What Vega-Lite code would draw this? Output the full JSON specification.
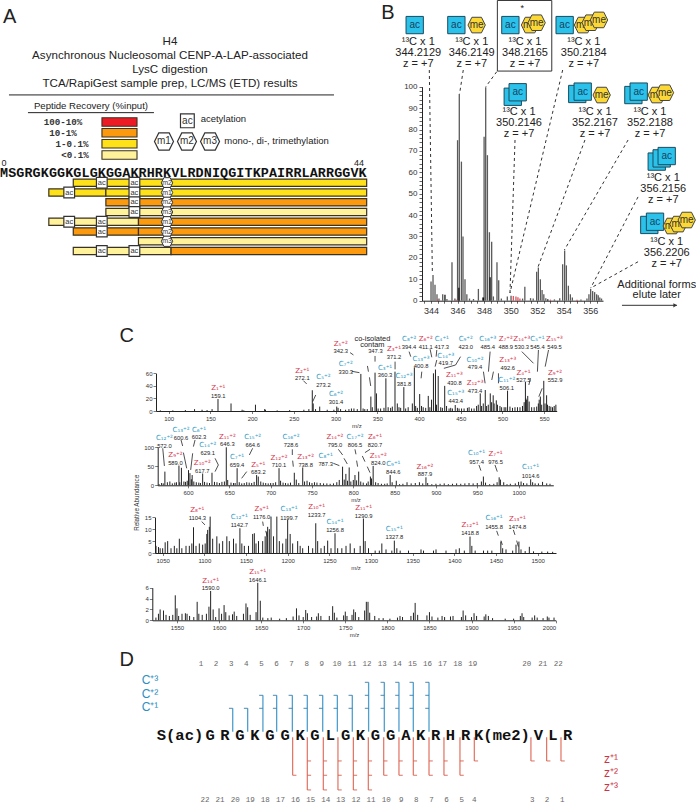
{
"$schema":"https://vega.github.io/schema/vega-lite/v6.json",
"width":696,"height":803,"padding":0,"autosize":{"type":"none"},"background":"white",
"config":{"view":{"stroke":null},"text":{"font":"Liberation Sans","color":"#222"},"axis":{"grid":false,"labelFont":"Liberation Sans","titleFont":"Liberation Sans","titleFontWeight":"normal"}},
"resolve":{"scale":{"x":"independent","y":"independent","color":"independent"},"axis":{"x":"independent","y":"independent"}},
"datasets":{
"aBars":[{"start":8.5,"end":44.5,"row":1,"recovery":"1-0.1%"},{"start":5.5,"end":12.5,"row":2,"recovery":"1-0.1%"},{"start":12.5,"end":44.5,"row":2,"recovery":"1-0.1%"},{"start":12.5,"end":44.5,"row":3,"recovery":"10-1%"},{"start":12.5,"end":44.5,"row":4,"recovery":"<0.1%"},{"start":5.5,"end":16.5,"row":5,"recovery":"<0.1%"},{"start":16.5,"end":44.5,"row":5,"recovery":"10-1%"},{"start":8.5,"end":16.5,"row":6,"recovery":"10-1%"},{"start":16.5,"end":44.5,"row":6,"recovery":"10-1%"},{"start":16.5,"end":44.5,"row":7,"recovery":"<0.1%"},{"start":8.5,"end":20.5,"row":8,"recovery":"<0.1%"},{"start":20.5,"end":44.5,"row":8,"recovery":"10-1%"}],
"aSwatch":[{"start":12.02,"end":16.32,"row":-5.24,"recovery":"100-10%"},{"start":12.02,"end":16.32,"row":-4.13,"recovery":"10-1%"},{"start":12.02,"end":16.32,"row":-3.01,"recovery":"1-0.1%"},{"start":12.02,"end":16.32,"row":-1.86,"recovery":"<0.1%"}],
"aSeq":[{"pos":0,"row":0,"aa":"M"},{"pos":1,"row":0,"aa":"S"},{"pos":2,"row":0,"aa":"G"},{"pos":3,"row":0,"aa":"R"},{"pos":4,"row":0,"aa":"G"},{"pos":5,"row":0,"aa":"K"},{"pos":6,"row":0,"aa":"G"},{"pos":7,"row":0,"aa":"G"},{"pos":8,"row":0,"aa":"K"},{"pos":9,"row":0,"aa":"G"},{"pos":10,"row":0,"aa":"L"},{"pos":11,"row":0,"aa":"G"},{"pos":12,"row":0,"aa":"K"},{"pos":13,"row":0,"aa":"G"},{"pos":14,"row":0,"aa":"G"},{"pos":15,"row":0,"aa":"A"},{"pos":16,"row":0,"aa":"K"},{"pos":17,"row":0,"aa":"R"},{"pos":18,"row":0,"aa":"H"},{"pos":19,"row":0,"aa":"R"},{"pos":20,"row":0,"aa":"K"},{"pos":21,"row":0,"aa":"V"},{"pos":22,"row":0,"aa":"L"},{"pos":23,"row":0,"aa":"R"},{"pos":24,"row":0,"aa":"D"},{"pos":25,"row":0,"aa":"N"},{"pos":26,"row":0,"aa":"I"},{"pos":27,"row":0,"aa":"Q"},{"pos":28,"row":0,"aa":"G"},{"pos":29,"row":0,"aa":"I"},{"pos":30,"row":0,"aa":"T"},{"pos":31,"row":0,"aa":"K"},{"pos":32,"row":0,"aa":"P"},{"pos":33,"row":0,"aa":"A"},{"pos":34,"row":0,"aa":"I"},{"pos":35,"row":0,"aa":"R"},{"pos":36,"row":0,"aa":"R"},{"pos":37,"row":0,"aa":"L"},{"pos":38,"row":0,"aa":"A"},{"pos":39,"row":0,"aa":"R"},{"pos":40,"row":0,"aa":"R"},{"pos":41,"row":0,"aa":"G"},{"pos":42,"row":0,"aa":"G"},{"pos":43,"row":0,"aa":"V"},{"pos":44,"row":0,"aa":"K"}],
"aAc":[{"pos":12,"row":1},{"pos":16,"row":1},{"pos":8,"row":2},{"pos":16,"row":2},{"pos":16,"row":3},{"pos":16,"row":4},{"pos":8,"row":5},{"pos":12,"row":5},{"pos":12,"row":6},{"pos":12,"row":8},{"pos":16,"row":8}],
"aMe":[{"pos":20,"row":1,"t":"m2"},{"pos":20,"row":2,"t":"m1"},{"pos":20,"row":3,"t":"m2"},{"pos":20,"row":4,"t":"m3"},{"pos":20,"row":5,"t":"m1"},{"pos":20,"row":6,"t":"m2"},{"pos":20,"row":7,"t":"m3"}],
"aMeLegend":[{"pos":19.63,"row":-3.24,"t":"m1"},{"pos":22.45,"row":-3.24,"t":"m2"},{"pos":25.28,"row":-3.24,"t":"m3"}],
"bPeaks":[{"mz":344.0,"i":9},{"mz":344.15,"i":12},{"mz":344.3,"i":7.5},{"mz":344.45,"i":3},{"mz":344.6,"i":1},{"mz":344.88,"i":3},{"mz":345.2,"i":0.8},{"mz":345.58,"i":18},{"mz":345.8,"i":1},{"mz":346.0,"i":75},{"mz":346.13,"i":96.6},{"mz":346.29,"i":65},{"mz":346.41,"i":30},{"mz":346.56,"i":10},{"mz":346.7,"i":3},{"mz":346.9,"i":1},{"mz":347.2,"i":0.8},{"mz":347.57,"i":5.5},{"mz":347.9,"i":1.5},{"mz":348.0,"i":76.6},{"mz":348.12,"i":99.7},{"mz":348.25,"i":68},{"mz":348.4,"i":32},{"mz":348.57,"i":27.5},{"mz":348.7,"i":2},{"mz":348.97,"i":18},{"mz":349.1,"i":9.5},{"mz":349.3,"i":1},{"mz":349.75,"i":2},{"mz":350.03,"i":2.3},{"mz":350.9,"i":1},{"mz":351.07,"i":6.5},{"mz":351.5,"i":1.2},{"mz":351.7,"i":1},{"mz":351.96,"i":13.5},{"mz":352.09,"i":15.5},{"mz":352.24,"i":10},{"mz":352.37,"i":5},{"mz":352.5,"i":3},{"mz":352.65,"i":1.2},{"mz":353.3,"i":0.6},{"mz":353.7,"i":1.2},{"mz":353.92,"i":17},{"mz":354.07,"i":23.5},{"mz":354.2,"i":16.5},{"mz":354.35,"i":7},{"mz":354.5,"i":3},{"mz":354.65,"i":1.5},{"mz":355.3,"i":0.6},{"mz":355.75,"i":1},{"mz":355.9,"i":3},{"mz":356.03,"i":5.5},{"mz":356.18,"i":4.5},{"mz":356.33,"i":4},{"mz":356.48,"i":3},{"mz":356.6,"i":2.5},{"mz":356.72,"i":1.5},{"mz":356.85,"i":1}],
"bDark":[{"mz":345.05,"i":2.8},{"mz":346.1,"i":6},{"mz":348.45,"i":11},{"mz":347.95,"i":1.5},{"mz":352.8,"i":0.7}],
"bRed":[{"mz":344.5,"i":0.6},{"mz":345.9,"i":0.5},{"mz":350.2,"i":2.2},{"mz":350.4,"i":2},{"mz":350.55,"i":1.6},{"mz":350.7,"i":1},{"mz":353.0,"i":0.5},{"mz":355.0,"i":0.5}],
"bDash":[{"mz":343.87,"i":107.8,"mz2":344.1,"i2":13.4},{"mz":346.43,"i":107.8,"mz2":346.15,"i2":96.6},{"mz":348.95,"i":107,"mz2":348.12,"i2":99.9},{"mz":353.92,"i":107.8,"mz2":349.95,"i2":3.6},{"mz":350.33,"i":75.1,"mz2":349.95,"i2":3.6},{"mz":355.6,"i":75.1,"mz2":352.06,"i2":15.7},{"mz":358.85,"i":75.1,"mz2":354.05,"i2":23.7},{"mz":359.6,"i":48.5,"mz2":356.03,"i2":5.9},{"mz":359.6,"i":18.2,"mz2":356.03,"i2":5.9}],
"bText":[{"mz":343.04,"i":120.7,"t":"¹³C x 1"},{"mz":343.04,"i":115.6,"t":"344.2129"},{"mz":343.04,"i":110.6,"t":"z = +7"},{"mz":347.07,"i":120.7,"t":"¹³C x 1"},{"mz":347.07,"i":115.6,"t":"346.2149"},{"mz":347.07,"i":110.6,"t":"z = +7"},{"mz":351.08,"i":120.7,"t":"¹³C x 1"},{"mz":351.08,"i":115.6,"t":"348.2165"},{"mz":351.08,"i":110.6,"t":"z = +7"},{"mz":355.51,"i":120.7,"t":"¹³C x 1"},{"mz":355.51,"i":115.6,"t":"350.2184"},{"mz":355.51,"i":110.6,"t":"z = +7"},{"mz":350.63,"i":88.2,"t":"¹³C x 1"},{"mz":350.63,"i":82.9,"t":"350.2146"},{"mz":350.63,"i":77.9,"t":"z = +7"},{"mz":356.36,"i":88.2,"t":"¹³C x 1"},{"mz":356.36,"i":82.9,"t":"352.2167"},{"mz":356.36,"i":77.9,"t":"z = +7"},{"mz":360.5,"i":88.2,"t":"¹³C x 1"},{"mz":360.5,"i":82.9,"t":"352.2188"},{"mz":360.5,"i":77.9,"t":"z = +7"},{"mz":361.5,"i":57.2,"t":"¹³C x 1"},{"mz":361.5,"i":52.1,"t":"356.2156"},{"mz":361.5,"i":47.1,"t":"z = +7"},{"mz":361.76,"i":27.3,"t":"¹³C x 1"},{"mz":361.76,"i":22.1,"t":"356.2206"},{"mz":361.76,"i":17.1,"t":"z = +7"},{"mz":361.01,"i":7.5,"t":"Additional forms"},{"mz":361.01,"i":2.5,"t":"elute later"}],
"bAc":[{"mz":342.77,"i":128.8,"t":"ac"},{"mz":345.91,"i":128.8,"t":"ac"},{"mz":349.98,"i":128.8,"t":"ac"},{"mz":354.07,"i":128.8,"t":"ac"},{"mz":350.16,"i":95.3,"t":""},{"mz":350.53,"i":97.4,"t":"ac"},{"mz":355.02,"i":96.6,"t":""},{"mz":355.43,"i":97.7,"t":"ac"},{"mz":359.25,"i":96.1,"t":""},{"mz":359.65,"i":97.7,"t":"ac"},{"mz":361.01,"i":65,"t":""},{"mz":361.38,"i":66.5,"t":""},{"mz":361.76,"i":67.6,"t":"ac"},{"mz":360.45,"i":35.4,"t":""},{"mz":360.88,"i":36.9,"t":"ac"}],
"bMe":[{"mz":347.44,"i":128.8,"tier":3},{"mz":351.46,"i":128.8,"tier":1},{"mz":351.96,"i":129.9,"tier":3},{"mz":355.45,"i":128.8,"tier":1},{"mz":356.03,"i":129.9,"tier":2},{"mz":356.66,"i":131.2,"tier":3},{"mz":356.86,"i":96.1,"tier":3},{"mz":361.01,"i":96.1,"tier":1},{"mz":361.63,"i":97.2,"tier":3},{"mz":362.14,"i":34.9,"tier":1},{"mz":362.64,"i":35.8,"tier":2},{"mz":363.27,"i":37.7,"tier":3}],
"c1":[{"mz":159.1,"i":19},{"mz":174.7,"i":12},{"mz":204,"i":10},{"mz":272.1,"i":33},{"mz":273.2,"i":12},{"mz":281,"i":7},{"mz":301.4,"i":7},{"mz":330.3,"i":59},{"mz":342.3,"i":23},{"mz":347.3,"i":61},{"mz":349,"i":28},{"mz":360.3,"i":52},{"mz":371.2,"i":62.6},{"mz":381.8,"i":38},{"mz":394.4,"i":69.5},{"mz":400.8,"i":27},{"mz":411.1,"i":24},{"mz":417.3,"i":60},{"mz":419.7,"i":66},{"mz":423,"i":55.7},{"mz":430.8,"i":40},{"mz":443.4,"i":9.5},{"mz":473.4,"i":28},{"mz":479.4,"i":33.4},{"mz":485.4,"i":28},{"mz":488.9,"i":25},{"mz":492.6,"i":17},{"mz":506.1,"i":32.4},{"mz":527.5,"i":46.7},{"mz":530.3,"i":24},{"mz":545.4,"i":23},{"mz":549.5,"i":48},{"mz":552.9,"i":25},{"mz":90,"i":1},{"mz":105,"i":1},{"mz":120,"i":1.5},{"mz":131,"i":3},{"mz":140,"i":2},{"mz":146,"i":1.5},{"mz":152,"i":3},{"mz":188,"i":2},{"mz":190,"i":1},{"mz":215,"i":3},{"mz":216,"i":2},{"mz":230,"i":1},{"mz":245,"i":1.5},{"mz":262,"i":2},{"mz":268,"i":3},{"mz":276,"i":3},{"mz":290,"i":2},{"mz":298,"i":2},{"mz":303,"i":5},{"mz":306,"i":3},{"mz":312,"i":2},{"mz":316,"i":3},{"mz":319,"i":4},{"mz":322,"i":4},{"mz":326,"i":3},{"mz":333,"i":4},{"mz":335,"i":3},{"mz":338,"i":3},{"mz":344,"i":6},{"mz":351,"i":4},{"mz":354,"i":4},{"mz":358,"i":5},{"mz":363,"i":6},{"mz":366,"i":5},{"mz":368,"i":7},{"mz":374,"i":12},{"mz":376,"i":6},{"mz":378,"i":5},{"mz":384,"i":4},{"mz":387,"i":6},{"mz":392,"i":12},{"mz":396,"i":8},{"mz":398,"i":5},{"mz":403,"i":8},{"mz":405,"i":6},{"mz":408,"i":5},{"mz":413,"i":6},{"mz":415,"i":18},{"mz":421,"i":10},{"mz":426,"i":6},{"mz":428,"i":5},{"mz":433,"i":8},{"mz":436,"i":4},{"mz":438,"i":5},{"mz":440,"i":4},{"mz":446,"i":5},{"mz":448,"i":4},{"mz":451,"i":4},{"mz":454,"i":4},{"mz":458,"i":5},{"mz":460,"i":6},{"mz":463,"i":4},{"mz":466,"i":4},{"mz":469,"i":8},{"mz":471,"i":10},{"mz":475,"i":8},{"mz":477,"i":12},{"mz":481,"i":8},{"mz":483,"i":10},{"mz":487,"i":14},{"mz":490,"i":12},{"mz":494,"i":10},{"mz":497,"i":8},{"mz":499,"i":6},{"mz":502,"i":6},{"mz":504,"i":6},{"mz":509,"i":7},{"mz":512,"i":5},{"mz":515,"i":6},{"mz":518,"i":6},{"mz":521,"i":6},{"mz":524,"i":8},{"mz":526,"i":14},{"mz":528,"i":20},{"mz":529,"i":18},{"mz":532,"i":15},{"mz":535,"i":6},{"mz":538,"i":6},{"mz":541,"i":7},{"mz":543,"i":12},{"mz":544,"i":18},{"mz":547,"i":10},{"mz":551,"i":12},{"mz":554,"i":10},{"mz":556,"i":8},{"mz":558,"i":7},{"mz":560,"i":6},{"mz":562,"i":8},{"mz":564,"i":10}],
"c2":[{"mz":572,"i":36},{"mz":589,"i":52},{"mz":592,"i":46},{"mz":600.6,"i":40},{"mz":602.3,"i":32},{"mz":605,"i":27},{"mz":617.7,"i":31},{"mz":629,"i":33},{"mz":646.3,"i":100},{"mz":659.4,"i":45},{"mz":683,"i":27},{"mz":685,"i":23},{"mz":710.1,"i":45},{"mz":728.6,"i":33},{"mz":738.8,"i":47},{"mz":787,"i":49},{"mz":795,"i":47},{"mz":791,"i":30},{"mz":806.5,"i":36},{"mz":802,"i":27},{"mz":820.7,"i":23},{"mz":824,"i":51},{"mz":844.6,"i":27},{"mz":887.9,"i":21},{"mz":957.4,"i":23},{"mz":976.5,"i":21},{"mz":1014.6,"i":16},{"mz":565,"i":3},{"mz":568,"i":6},{"mz":570,"i":5},{"mz":575,"i":8},{"mz":578,"i":10},{"mz":581,"i":5},{"mz":584,"i":7},{"mz":586,"i":8},{"mz":590,"i":8},{"mz":595,"i":10},{"mz":597,"i":9},{"mz":599,"i":12},{"mz":604,"i":16},{"mz":607,"i":10},{"mz":610,"i":8},{"mz":613,"i":7},{"mz":615,"i":6},{"mz":620,"i":9},{"mz":623,"i":7},{"mz":626,"i":6},{"mz":632,"i":9},{"mz":635,"i":8},{"mz":638,"i":6},{"mz":641,"i":9},{"mz":644,"i":10},{"mz":648,"i":14},{"mz":652,"i":7},{"mz":655,"i":6},{"mz":657,"i":6},{"mz":662,"i":8},{"mz":665,"i":5},{"mz":668,"i":6},{"mz":671,"i":8},{"mz":674,"i":7},{"mz":677,"i":6},{"mz":680,"i":9},{"mz":688,"i":10},{"mz":691,"i":7},{"mz":694,"i":6},{"mz":697,"i":5},{"mz":700,"i":6},{"mz":703,"i":6},{"mz":706,"i":8},{"mz":712,"i":12},{"mz":715,"i":7},{"mz":718,"i":6},{"mz":721,"i":5},{"mz":724,"i":7},{"mz":731,"i":15},{"mz":734,"i":6},{"mz":741,"i":10},{"mz":744,"i":12},{"mz":747,"i":8},{"mz":750,"i":6},{"mz":753,"i":8},{"mz":756,"i":7},{"mz":760,"i":6},{"mz":764,"i":5},{"mz":768,"i":5},{"mz":772,"i":4},{"mz":776,"i":5},{"mz":780,"i":8},{"mz":783,"i":14},{"mz":789,"i":15},{"mz":793,"i":12},{"mz":797,"i":10},{"mz":800,"i":14},{"mz":804,"i":13},{"mz":809,"i":10},{"mz":812,"i":7},{"mz":816,"i":5},{"mz":818,"i":10},{"mz":822,"i":18},{"mz":827,"i":8},{"mz":830,"i":6},{"mz":834,"i":4},{"mz":838,"i":4},{"mz":841,"i":5},{"mz":847,"i":8},{"mz":852,"i":12},{"mz":856,"i":3},{"mz":860,"i":4},{"mz":865,"i":8},{"mz":870,"i":5},{"mz":875,"i":6},{"mz":880,"i":8},{"mz":884,"i":5},{"mz":890,"i":6},{"mz":895,"i":3},{"mz":900,"i":4},{"mz":905,"i":4},{"mz":910,"i":5},{"mz":915,"i":3},{"mz":920,"i":4},{"mz":925,"i":5},{"mz":930,"i":4},{"mz":935,"i":5},{"mz":940,"i":6},{"mz":945,"i":5},{"mz":950,"i":6},{"mz":955,"i":10},{"mz":960,"i":7},{"mz":965,"i":3},{"mz":970,"i":4},{"mz":974,"i":8},{"mz":978,"i":15},{"mz":982,"i":8},{"mz":986,"i":3},{"mz":990,"i":4},{"mz":996,"i":5},{"mz":1000,"i":9},{"mz":1003,"i":10},{"mz":1006,"i":6},{"mz":1010,"i":5},{"mz":1017,"i":8},{"mz":1020,"i":5},{"mz":1024,"i":5},{"mz":1029,"i":9},{"mz":1034,"i":5},{"mz":1038,"i":4}],
"c3":[{"mz":1087,"i":10.8},{"mz":1104,"i":9.7},{"mz":1107,"i":15.3},{"mz":1103,"i":8},{"mz":1142.7,"i":10.4},{"mz":1160,"i":8.3},{"mz":1176,"i":11},{"mz":1180,"i":15.3},{"mz":1187,"i":15.3},{"mz":1200,"i":14},{"mz":1233.7,"i":12.5},{"mz":1256.8,"i":8.3},{"mz":1248,"i":5.2},{"mz":1290.9,"i":14.5},{"mz":1328,"i":5.2},{"mz":1313,"i":4},{"mz":1418.8,"i":6.9},{"mz":1455.8,"i":4.8},{"mz":1474,"i":3.5},{"mz":1477.5,"i":4.8},{"mz":1490,"i":2.6},{"mz":1042,"i":3},{"mz":1045,"i":2.5},{"mz":1047,"i":2},{"mz":1050,"i":2},{"mz":1053,"i":4.5},{"mz":1056,"i":5},{"mz":1060,"i":2},{"mz":1064,"i":3},{"mz":1067,"i":2},{"mz":1070,"i":6},{"mz":1073,"i":2},{"mz":1078,"i":3},{"mz":1082,"i":3},{"mz":1085,"i":4},{"mz":1090,"i":3},{"mz":1094,"i":4},{"mz":1098,"i":3.5},{"mz":1101,"i":4},{"mz":1106,"i":11},{"mz":1110,"i":6},{"mz":1115,"i":7},{"mz":1118,"i":4},{"mz":1122,"i":5},{"mz":1127,"i":7},{"mz":1130,"i":5},{"mz":1135,"i":6},{"mz":1138,"i":4},{"mz":1145,"i":4},{"mz":1148,"i":3},{"mz":1153,"i":3},{"mz":1158,"i":8},{"mz":1162,"i":4},{"mz":1165,"i":5},{"mz":1170,"i":5},{"mz":1173,"i":7},{"mz":1175,"i":9},{"mz":1178,"i":10},{"mz":1183,"i":7},{"mz":1190,"i":5},{"mz":1194,"i":4},{"mz":1198,"i":6},{"mz":1203,"i":8},{"mz":1206,"i":4},{"mz":1212,"i":5},{"mz":1215,"i":3},{"mz":1218,"i":2},{"mz":1225,"i":3},{"mz":1230,"i":2},{"mz":1236,"i":5},{"mz":1240,"i":2},{"mz":1244,"i":3},{"mz":1252,"i":2},{"mz":1260,"i":2},{"mz":1265,"i":2},{"mz":1270,"i":3},{"mz":1275,"i":4},{"mz":1280,"i":2},{"mz":1287,"i":3},{"mz":1293,"i":5},{"mz":1297,"i":2},{"mz":1305,"i":1},{"mz":1310,"i":1},{"mz":1318,"i":1.5},{"mz":1325,"i":1},{"mz":1331,"i":2},{"mz":1335,"i":1},{"mz":1345,"i":1},{"mz":1360,"i":1.5},{"mz":1363,"i":1},{"mz":1375,"i":1},{"mz":1378,"i":1.5},{"mz":1390,"i":1},{"mz":1402,"i":1.5},{"mz":1406,"i":2},{"mz":1412,"i":1},{"mz":1421,"i":3},{"mz":1425,"i":1},{"mz":1435,"i":1},{"mz":1440,"i":1},{"mz":1445,"i":1},{"mz":1458,"i":2},{"mz":1462,"i":1.5},{"mz":1470,"i":1},{"mz":1480,"i":1.5},{"mz":1485,"i":0.8},{"mz":1495,"i":0.7},{"mz":1505,"i":0.6},{"mz":1512,"i":0.6},{"mz":1518,"i":0.5}],
"c4":[{"mz":1530,"i":2},{"mz":1534,"i":1.8},{"mz":1548,"i":4.6},{"mz":1550,"i":2.2},{"mz":1562,"i":1.2},{"mz":1574,"i":3.4},{"mz":1590,"i":5.4},{"mz":1593,"i":2},{"mz":1600,"i":2.2},{"mz":1606,"i":2.8},{"mz":1618,"i":1.6},{"mz":1632,"i":3.1},{"mz":1646,"i":6.9},{"mz":1649,"i":3.6},{"mz":1692,"i":2.2},{"mz":1703,"i":1.9},{"mz":1718,"i":1.3},{"mz":1735,"i":2.6},{"mz":1750,"i":1.6},{"mz":1760,"i":2},{"mz":1775,"i":3.4},{"mz":1777,"i":3.4},{"mz":1785,"i":0.8},{"mz":1815,"i":0.8},{"mz":1833,"i":3.2},{"mz":1850,"i":1.5},{"mz":1865,"i":0.8},{"mz":1890,"i":1.8},{"mz":1903,"i":1.3},{"mz":1917,"i":1.1},{"mz":1960,"i":1.3},{"mz":1975,"i":0.9},{"mz":1990,"i":0.7},{"mz":1525,"i":0.5},{"mz":1528,"i":1.2},{"mz":1537,"i":1},{"mz":1541,"i":0.8},{"mz":1545,"i":1},{"mz":1552,"i":0.8},{"mz":1556,"i":1.2},{"mz":1560,"i":1.3},{"mz":1565,"i":0.8},{"mz":1570,"i":0.6},{"mz":1576,"i":1.2},{"mz":1580,"i":1},{"mz":1585,"i":1.2},{"mz":1588,"i":2.5},{"mz":1596,"i":0.6},{"mz":1603,"i":1.2},{"mz":1608,"i":1.5},{"mz":1612,"i":0.9},{"mz":1616,"i":1.1},{"mz":1621,"i":0.8},{"mz":1629,"i":1.2},{"mz":1634,"i":2.4},{"mz":1637,"i":1},{"mz":1644,"i":1.5},{"mz":1652,"i":0.5},{"mz":1658,"i":0.4},{"mz":1662,"i":0.5},{"mz":1672,"i":0.3},{"mz":1680,"i":0.4},{"mz":1688,"i":0.7},{"mz":1695,"i":0.9},{"mz":1700,"i":0.6},{"mz":1705,"i":1.3},{"mz":1710,"i":0.6},{"mz":1716,"i":0.7},{"mz":1721,"i":0.8},{"mz":1731,"i":0.8},{"mz":1737,"i":1.4},{"mz":1740,"i":0.5},{"mz":1748,"i":0.9},{"mz":1752,"i":0.8},{"mz":1758,"i":1},{"mz":1762,"i":1.5},{"mz":1766,"i":0.6},{"mz":1773,"i":1.8},{"mz":1779,"i":1.4},{"mz":1790,"i":0.4},{"mz":1795,"i":0.4},{"mz":1803,"i":0.3},{"mz":1812,"i":0.5},{"mz":1818,"i":0.6},{"mz":1828,"i":0.8},{"mz":1831,"i":1.4},{"mz":1836,"i":1},{"mz":1847,"i":0.9},{"mz":1853,"i":0.7},{"mz":1860,"i":0.5},{"mz":1868,"i":0.6},{"mz":1875,"i":0.7},{"mz":1878,"i":0.8},{"mz":1888,"i":0.6},{"mz":1893,"i":0.9},{"mz":1900,"i":0.6},{"mz":1906,"i":0.8},{"mz":1915,"i":0.7},{"mz":1920,"i":0.8},{"mz":1925,"i":0.4},{"mz":1940,"i":0.3},{"mz":1950,"i":0.3},{"mz":1958,"i":0.8},{"mz":1962,"i":0.6},{"mz":1972,"i":0.5},{"mz":1978,"i":0.5},{"mz":1985,"i":0.4},{"mz":1992,"i":0.5},{"mz":1998,"i":0.5}],
"c1l":[{"mz":159.5,"ion":"Z₁⁺¹","kind":"z","val":"159.1","ionI":36.1,"valI":23.9},{"mz":260.2,"ion":"Z₂⁺¹","kind":"z","val":"272.1","ionI":63.7,"valI":52.5},{"mz":285.4,"ion":"C₅⁺²","kind":"c","val":"273.2","ionI":53.6,"valI":41.9},{"mz":300.6,"ion":"C₆⁺²","kind":"c","val":"301.4","ionI":27.1,"valI":14.3},{"mz":312.2,"ion":"C₇⁺²","kind":"c","val":"330.3","ionI":74.8,"valI":62.1},{"mz":306.2,"ion":"Z₅⁺²","kind":"z","val":"342.3","ionI":106.7,"valI":96.1},{"mz":347.7,"ion":"","kind":"c","val":"347.3","ionI":96.1,"valI":96.1},{"mz":370.1,"ion":"Z₃⁺¹","kind":"z","val":"371.2","ionI":98.2,"valI":86.5},{"mz":359.3,"ion":"C₃⁺¹","kind":"c","val":"360.3","ionI":69,"valI":56.8},{"mz":382.1,"ion":"C₁₂⁺³","kind":"c","val":"381.8","ionI":55.7,"valI":42.5},{"mz":388.1,"ion":"C₈⁺²","kind":"c","val":"394.4","ionI":115.2,"valI":102.4},{"mz":408.1,"ion":"Z₆⁺²","kind":"z","val":"411.1","ionI":114.1,"valI":102.4},{"mz":427.3,"ion":"C₄⁺¹","kind":"c","val":"417.3","ionI":114.1,"valI":102.4},{"mz":402.5,"ion":"C₁₃⁺³","kind":"c","val":"400.8","ionI":82.8,"valI":71.1},{"mz":432.1,"ion":"C₁₄⁺³","kind":"c","val":"419.7","ionI":87.6,"valI":75.9},{"mz":456,"ion":"C₉⁺²","kind":"c","val":"423.0","ionI":114.1,"valI":102.4},{"mz":442.4,"ion":"Z₁₁⁺³","kind":"z","val":"430.8","ionI":57.3,"valI":44.6},{"mz":444,"ion":"C₁₅⁺³","kind":"c","val":"443.4","ionI":29.2,"valI":15.9},{"mz":467.2,"ion":"C₁₀⁺²","kind":"c","val":"479.4","ionI":81.2,"valI":69.5},{"mz":467.2,"ion":"Z₁₂⁺³","kind":"z","val":"473.4","ionI":44.1,"valI":31.3},{"mz":482.4,"ion":"C₁₆⁺³","kind":"c","val":"485.4","ionI":114.1,"valI":102.4},{"mz":504,"ion":"Z₇⁺²","kind":"z","val":"488.9","ionI":114.1,"valI":102.4},{"mz":506.4,"ion":"Z₁₃⁺³","kind":"z","val":"492.6","ionI":81.2,"valI":69},{"mz":505.2,"ion":"C₁₁⁺²","kind":"c","val":"506.1","ionI":49.4,"valI":36.1},{"mz":523.2,"ion":"Z₁₄⁺³","kind":"z","val":"530.3","ionI":114.1,"valI":102.4},{"mz":541.9,"ion":"C₅⁺¹","kind":"c","val":"545.4","ionI":114.1,"valI":102.4},{"mz":562.3,"ion":"Z₁₅⁺³","kind":"z","val":"549.5","ionI":114.1,"valI":102.4},{"mz":525.2,"ion":"Z₄⁺¹","kind":"z","val":"527.5","ionI":61,"valI":49.4},{"mz":563.1,"ion":"Z₉⁺²","kind":"z","val":"552.9","ionI":60,"valI":48.8}],
"c2l":[{"mz":571.4,"ion":"C₁₂⁺²","kind":"c","val":"572.0","ionI":123.7,"valI":103.5},{"mz":591.5,"ion":"C₁₃⁺²","kind":"c","val":"600.6","ionI":145.6,"valI":125.4},{"mz":613.3,"ion":"C₆⁺¹","kind":"c","val":"602.3","ionI":145.6,"valI":126.3},{"mz":623.8,"ion":"C₁₄⁺²","kind":"c","val":"629.1","ionI":106.1,"valI":86},{"mz":584.7,"ion":"Z₉⁺²","kind":"z","val":"589.0","ionI":79.8,"valI":58.8},{"mz":617.3,"ion":"Z₁₀⁺²","kind":"z","val":"617.7","ionI":57.9,"valI":38.6},{"mz":647.6,"ion":"Z₁₁⁺²","kind":"z","val":"646.3","ionI":128.1,"valI":107.9},{"mz":678.2,"ion":"C₁₅⁺²","kind":"c","val":"664.6","ionI":128.1,"valI":107},{"mz":659.3,"ion":"C₇⁺¹","kind":"c","val":"659.4","ionI":73.7,"valI":53.5},{"mz":685.1,"ion":"Z₅⁺¹","kind":"z","val":"683.2","ionI":53.5,"valI":34.2},{"mz":710.1,"ion":"Z₁₂⁺²","kind":"z","val":"710.1","ionI":71.1,"valI":53.5},{"mz":724.6,"ion":"C₁₆⁺²","kind":"c","val":"728.6","ionI":126.3,"valI":106.1},{"mz":742.3,"ion":"Z₁₃⁺²","kind":"z","val":"738.8","ionI":73.7,"valI":53.5},{"mz":777.8,"ion":"Z₁₄⁺²","kind":"z","val":"795.0","ionI":128.1,"valI":107},{"mz":802,"ion":"C₁₇⁺²","kind":"c","val":"806.5","ionI":128.1,"valI":107},{"mz":826.2,"ion":"Z₆⁺¹","kind":"z","val":"820.7","ionI":128.1,"valI":107},{"mz":766.5,"ion":"C₈⁺¹","kind":"c","val":"787.3","ionI":77.2,"valI":55.3},{"mz":830.2,"ion":"Z₁₅⁺²","kind":"z","val":"824.0","ionI":77.2,"valI":57.9},{"mz":848.4,"ion":"C₉⁺¹","kind":"c","val":"844.6","ionI":55.3,"valI":36},{"mz":886.7,"ion":"Z₁₆⁺²","kind":"z","val":"887.9","ionI":47.4,"valI":28.9},{"mz":949.2,"ion":"C₁₀⁺¹","kind":"c","val":"957.4","ionI":84.2,"valI":62.3},{"mz":972.2,"ion":"Z₇⁺¹","kind":"z","val":"976.5","ionI":82.5,"valI":62.3},{"mz":1014.5,"ion":"C₁₁⁺¹","kind":"c","val":"1014.6","ionI":47.4,"valI":25.4}],
"c3l":[{"mz":1091.6,"ion":"Z₈⁺¹","kind":"z","val":"1104.3","ionI":18.1,"valI":14.7},{"mz":1142,"ion":"C₁₂⁺¹","kind":"c","val":"1142.7","ionI":15,"valI":11.7},{"mz":1168.8,"ion":"Z₉⁺¹","kind":"z","val":"1176.0","ionI":18.5,"valI":15.3},{"mz":1201.6,"ion":"C₁₃⁺¹","kind":"c","val":"1199.7","ionI":18.4,"valI":14.9},{"mz":1234.8,"ion":"Z₁₀⁺¹","kind":"z","val":"1233.7","ionI":19.2,"valI":16},{"mz":1256.8,"ion":"C₁₄⁺¹","kind":"c","val":"1256.8","ionI":13.2,"valI":9.7},{"mz":1291.2,"ion":"Z₁₁⁺¹","kind":"z","val":"1290.9","ionI":18.8,"valI":15.6},{"mz":1328,"ion":"C₁₅⁺¹","kind":"c","val":"1327.8","ionI":10,"valI":6.6},{"mz":1418.8,"ion":"Z₁₂⁺¹","kind":"z","val":"1418.8","ionI":11.8,"valI":8.3},{"mz":1447.6,"ion":"C₁₆⁺¹","kind":"c","val":"1455.8","ionI":14.5,"valI":11.1},{"mz":1475.6,"ion":"Z₁₃⁺¹","kind":"z","val":"1474.8","ionI":14.3,"valI":11.1}],
"c4l":[{"mz":1590,"ion":"Z₁₄⁺¹","kind":"z","val":"1590.0","ionI":7.2,"valI":5.9},{"mz":1645.9,"ion":"Z₁₅⁺¹","kind":"z","val":"1646.1","ionI":8.8,"valI":7.4}],
"c1k":[{"mz":261.4,"i":48.3,"mz2":265.4,"i2":43},{"mz":272.6,"i":14.9,"mz2":276.2,"i2":25.5},{"mz":319.4,"i":63.2,"mz2":328.6,"i2":61},{"mz":317.4,"i":92.9,"mz2":321.4,"i2":89.2},{"mz":338.2,"i":71.7,"mz2":339.4,"i2":62.6},{"mz":340.6,"i":53.6,"mz2":342.1,"i2":39.8},{"mz":347.3,"i":87.6,"mz2":347.3,"i2":78.6},{"mz":371.3,"i":78.6,"mz2":371.3,"i2":66.3},{"mz":388.1,"i":94.5,"mz2":390.1,"i2":86.5},{"mz":403.3,"i":62.6,"mz2":402.5,"i2":52},{"mz":413.3,"i":98.2,"mz2":415.3,"i2":85.5},{"mz":421.3,"i":97.1,"mz2":420.5,"i2":86.5},{"mz":421.3,"i":81.2,"mz2":419.3,"i2":70.6},{"mz":449.8,"i":86.5,"mz2":443.8,"i2":73.2},{"mz":443.8,"i":73.2,"mz2":429.8,"i2":67.9},{"mz":477.2,"i":62.6,"mz2":479.2,"i2":44.1},{"mz":485.2,"i":94.5,"mz2":483.2,"i2":62.6},{"mz":489.2,"i":62.6,"mz2":487.2,"i2":49.4},{"mz":495.2,"i":60,"mz2":495.2,"i2":44.1},{"mz":523.2,"i":94.5,"mz2":537.2,"i2":75.9},{"mz":543.1,"i":97.1,"mz2":541.9,"i2":62.6},{"mz":555.2,"i":97.1,"mz2":551.2,"i2":70.6},{"mz":533.6,"i":52,"mz2":531.6,"i2":41.4},{"mz":547.6,"i":36.1,"mz2":543.6,"i2":22.8}],
"c2k":[{"mz":569.4,"i":97.4,"mz2":571.4,"i2":50.9},{"mz":591.5,"i":119.3,"mz2":593.5,"i2":103.5},{"mz":594.4,"i":86,"mz2":598.4,"i2":44.7},{"mz":608.5,"i":119.3,"mz2":606.5,"i2":101.8},{"mz":605.6,"i":84.2,"mz2":603.2,"i2":40.4},{"mz":632.7,"i":71,"mz2":636.7,"i2":53.5},{"mz":636.7,"i":53.5,"mz2":632.7,"i2":36},{"mz":678.2,"i":97.4,"mz2":674.2,"i2":79.8},{"mz":671,"i":36,"mz2":664.9,"i2":18.4},{"mz":726.2,"i":94.7,"mz2":726.2,"i2":79.8},{"mz":726.6,"i":64.9,"mz2":727.4,"i2":49.1},{"mz":781.9,"i":94.7,"mz2":787.1,"i2":79.8},{"mz":788.7,"i":71,"mz2":792.7,"i2":56.1},{"mz":802,"i":94.7,"mz2":803.2,"i2":81.6},{"mz":804,"i":64.9,"mz2":805.2,"i2":49.1},{"mz":820.2,"i":94.7,"mz2":814.1,"i2":86},{"mz":810.9,"i":77.2,"mz2":814.1,"i2":62.3},{"mz":775.8,"i":57.9,"mz2":783.1,"i2":51.8},{"mz":816.9,"i":49.1,"mz2":820.2,"i2":33.3},{"mz":952,"i":53.5,"mz2":954.4,"i2":38.6},{"mz":971.4,"i":53.5,"mz2":974.2,"i2":36}],
"c3k":[{"mz":1170,"i":13.2,"mz2":1170.8,"i2":11.4},{"mz":1173.6,"i":9.3,"mz2":1175.6,"i2":6.9},{"mz":1096.8,"i":13.2,"mz2":1100.8,"i2":11.8},{"mz":1450.8,"i":9.3,"mz2":1452.8,"i2":7.3},{"mz":1456,"i":5.2,"mz2":1457.6,"i2":3.4},{"mz":1470.8,"i":9.7,"mz2":1472.8,"i2":7.6},{"mz":1474.8,"i":5.2,"mz2":1476.8,"i2":2.7}],
"dTop":[{"site":1,"lvl":4.38,"n":"1"},{"site":2,"lvl":4.38,"n":"2"},{"site":3,"lvl":4.38,"n":"3"},{"site":4,"lvl":4.38,"n":"4"},{"site":5,"lvl":4.38,"n":"5"},{"site":6,"lvl":4.38,"n":"6"},{"site":7,"lvl":4.38,"n":"7"},{"site":8,"lvl":4.38,"n":"8"},{"site":9,"lvl":4.38,"n":"9"},{"site":10,"lvl":4.38,"n":"10"},{"site":11,"lvl":4.38,"n":"11"},{"site":12,"lvl":4.38,"n":"12"},{"site":13,"lvl":4.38,"n":"13"},{"site":14,"lvl":4.38,"n":"14"},{"site":15,"lvl":4.38,"n":"15"},{"site":16,"lvl":4.38,"n":"16"},{"site":17,"lvl":4.38,"n":"17"},{"site":18,"lvl":4.38,"n":"18"},{"site":19,"lvl":4.38,"n":"19"},{"site":22.57,"lvl":4.38,"n":"20"},{"site":23.63,"lvl":4.38,"n":"21"},{"site":24.66,"lvl":4.38,"n":"22"}],
"dBot":[{"site":1.26,"lvl":-6.05,"n":"22"},{"site":2.26,"lvl":-6.05,"n":"21"},{"site":3.26,"lvl":-6.05,"n":"20"},{"site":4.26,"lvl":-6.05,"n":"19"},{"site":5.26,"lvl":-6.05,"n":"18"},{"site":6.26,"lvl":-6.05,"n":"17"},{"site":7.26,"lvl":-6.05,"n":"16"},{"site":8.26,"lvl":-6.05,"n":"15"},{"site":9.26,"lvl":-6.05,"n":"14"},{"site":10.26,"lvl":-6.05,"n":"13"},{"site":11.26,"lvl":-6.05,"n":"12"},{"site":12.26,"lvl":-6.05,"n":"11"},{"site":13.26,"lvl":-6.05,"n":"10"},{"site":14.26,"lvl":-6.05,"n":"9"},{"site":15.26,"lvl":-6.05,"n":"8"},{"site":16.26,"lvl":-6.05,"n":"7"},{"site":17.26,"lvl":-6.05,"n":"6"},{"site":18.26,"lvl":-6.05,"n":"5"},{"site":19.1,"lvl":-6.05,"n":"4"},{"site":22.94,"lvl":-6.05,"n":"3"},{"site":23.91,"lvl":-6.05,"n":"2"},{"site":24.93,"lvl":-6.05,"n":"1"}],
"dSeq":[{"site":-0.39,"lvl":-1.05,"t":"S(ac)"},{"site":1.6,"lvl":-1.05,"t":"G"},{"site":2.59,"lvl":-1.05,"t":"R"},{"site":3.58,"lvl":-1.05,"t":"G"},{"site":4.57,"lvl":-1.05,"t":"K"},{"site":5.57,"lvl":-1.05,"t":"G"},{"site":6.57,"lvl":-1.05,"t":"G"},{"site":7.56,"lvl":-1.05,"t":"K"},{"site":8.55,"lvl":-1.05,"t":"G"},{"site":9.57,"lvl":-1.05,"t":"L"},{"site":10.58,"lvl":-1.05,"t":"G"},{"site":11.55,"lvl":-1.05,"t":"K"},{"site":12.55,"lvl":-1.05,"t":"G"},{"site":13.56,"lvl":-1.05,"t":"G"},{"site":14.57,"lvl":-1.05,"t":"A"},{"site":15.55,"lvl":-1.05,"t":"K"},{"site":16.54,"lvl":-1.05,"t":"R"},{"site":17.52,"lvl":-1.05,"t":"H"},{"site":18.52,"lvl":-1.05,"t":"R"},{"site":20.93,"lvl":-1.05,"t":"K(me2)"},{"site":23.34,"lvl":-1.05,"t":"V"},{"site":24.3,"lvl":-1.05,"t":"L"},{"site":25.28,"lvl":-1.05,"t":"R"}],
"dBlue":[{"site":3.1,"lvl":1},{"site":4.09,"lvl":1},{"site":5.1,"lvl":2},{"site":6.01,"lvl":2},{"site":7.05,"lvl":2},{"site":8.04,"lvl":2},{"site":9.06,"lvl":2},{"site":10.03,"lvl":2},{"site":11.02,"lvl":2},{"site":12.1,"lvl":3},{"site":13.14,"lvl":3},{"site":14.11,"lvl":3},{"site":15.06,"lvl":3},{"site":16.1,"lvl":3}],
"dBlueT":[{"site":3.1,"end":2.85,"lvl":1},{"site":4.09,"end":3.84,"lvl":1},{"site":5.1,"end":4.85,"lvl":1},{"site":5.1,"end":4.85,"lvl":2},{"site":6.01,"end":5.76,"lvl":1},{"site":6.01,"end":5.76,"lvl":2},{"site":7.05,"end":6.8,"lvl":1},{"site":7.05,"end":6.8,"lvl":2},{"site":8.04,"end":7.79,"lvl":1},{"site":8.04,"end":7.79,"lvl":2},{"site":9.06,"end":8.81,"lvl":1},{"site":9.06,"end":8.81,"lvl":2},{"site":10.03,"end":9.78,"lvl":1},{"site":10.03,"end":9.78,"lvl":2},{"site":11.02,"end":10.77,"lvl":1},{"site":11.02,"end":10.77,"lvl":2},{"site":12.1,"end":11.85,"lvl":1},{"site":12.1,"end":11.85,"lvl":2},{"site":12.1,"end":11.85,"lvl":3},{"site":13.14,"end":12.89,"lvl":1},{"site":13.14,"end":12.89,"lvl":2},{"site":13.14,"end":12.89,"lvl":3},{"site":14.11,"end":13.86,"lvl":1},{"site":14.11,"end":13.86,"lvl":2},{"site":14.11,"end":13.86,"lvl":3},{"site":15.06,"end":14.81,"lvl":1},{"site":15.06,"end":14.81,"lvl":2},{"site":15.06,"end":14.81,"lvl":3},{"site":16.1,"end":15.85,"lvl":1},{"site":16.1,"end":15.85,"lvl":2},{"site":16.1,"end":15.85,"lvl":3}],
"dRed":[{"site":7.07,"lvl":-4.15},{"site":8.04,"lvl":-5.28},{"site":9.1,"lvl":-5.28},{"site":10.07,"lvl":-5.28},{"site":11.09,"lvl":-5.28},{"site":12.08,"lvl":-5.28},{"site":13.1,"lvl":-4.15},{"site":14.11,"lvl":-4.15},{"site":15.06,"lvl":-4.15},{"site":16.1,"lvl":-4.15},{"site":17.09,"lvl":-4.15},{"site":18.15,"lvl":-4.15},{"site":19.1,"lvl":-3.05},{"site":22.85,"lvl":-3.05},{"site":23.89,"lvl":-3.05},{"site":24.84,"lvl":-3.05}],
"dRedT":[{"site":7.07,"end":7.32,"lvl":-4.15},{"site":8.04,"end":8.29,"lvl":-3.05},{"site":8.04,"end":8.29,"lvl":-4.15},{"site":8.04,"end":8.29,"lvl":-5.28},{"site":9.1,"end":9.35,"lvl":-3.05},{"site":9.1,"end":9.35,"lvl":-4.15},{"site":9.1,"end":9.35,"lvl":-5.28},{"site":10.07,"end":10.32,"lvl":-3.05},{"site":10.07,"end":10.32,"lvl":-4.15},{"site":10.07,"end":10.32,"lvl":-5.28},{"site":11.09,"end":11.34,"lvl":-3.05},{"site":11.09,"end":11.34,"lvl":-4.15},{"site":11.09,"end":11.34,"lvl":-5.28},{"site":12.08,"end":12.33,"lvl":-3.05},{"site":12.08,"end":12.33,"lvl":-4.15},{"site":12.08,"end":12.33,"lvl":-5.28},{"site":13.1,"end":13.35,"lvl":-3.05},{"site":13.1,"end":13.35,"lvl":-4.15},{"site":14.11,"end":14.36,"lvl":-3.05},{"site":14.11,"end":14.36,"lvl":-4.15},{"site":15.06,"end":15.31,"lvl":-3.05},{"site":15.06,"end":15.31,"lvl":-4.15},{"site":16.1,"end":16.35,"lvl":-3.05},{"site":16.1,"end":16.35,"lvl":-4.15},{"site":17.09,"end":17.34,"lvl":-3.05},{"site":17.09,"end":17.34,"lvl":-4.15},{"site":18.15,"end":18.4,"lvl":-3.05},{"site":18.15,"end":18.4,"lvl":-4.15},{"site":19.1,"end":19.35,"lvl":-3.05},{"site":22.85,"end":23.1,"lvl":-3.05},{"site":23.89,"end":24.14,"lvl":-3.05},{"site":24.84,"end":25.09,"lvl":-3.05}]
},
"layer":[
{"encoding":{"x":{"field":"pos","type":"quantitative","scale":{"domain":[0,44],"range":[4,362.6],"nice":false,"zero":false},"axis":null},"y":{"field":"row","type":"quantitative","scale":{"domain":[-17.25,8],"range":[0,256],"nice":false,"zero":false},"axis":null}},
"layer":[
{"data":{"values":[{"pos":-0.12,"row":-16.06,"t":"A"}]},"mark":{"type":"text","fontSize":20,"align":"left"},"encoding":{"text":{"field":"t"}}},
{"data":{"values":[{"pos":20.37,"row":-13.45,"t":"H4"},{"pos":20.37,"row":-12.02,"t":"Asynchronous Nucleosomal CENP-A-LAP-associated"},{"pos":20.37,"row":-10.59,"t":"LysC digestion"},{"pos":20.37,"row":-9.16,"t":"TCA/RapiGest sample prep, LC/MS (ETD) results"}]},"mark":{"type":"text","fontSize":11.6,"align":"center"},"encoding":{"text":{"field":"t"}}},
{"data":{"values":[{"pos":0.61,"end":40.49,"row":-8.02},{"pos":2.94,"end":18.4,"row":-6.2}]},"mark":{"type":"rule","color":"#222","strokeWidth":1},"encoding":{"x2":{"field":"end"}}},
{"data":{"values":[{"pos":10.67,"row":-6.89,"t":"Peptide Recovery (%input)"}]},"mark":{"type":"text","fontSize":9.6,"align":"center"},"encoding":{"text":{"field":"t"}}},
{"data":{"values":[{"pos":7.24,"row":-5.24,"t":"100-10%"},{"pos":7.24,"row":-4.13,"t":"10-1%"},{"pos":8.34,"row":-3.01,"t":"1-0.1%"},{"pos":8.71,"row":-1.86,"t":"<0.1%"}]},"mark":{"type":"text","fontSize":9.2,"fontWeight":"bold","font":"Liberation Mono","align":"center","color":"#333"},"encoding":{"text":{"field":"t"}}},
{"data":{"name":"aSwatch"},"mark":{"type":"bar","orient":"horizontal","size":8.5,"stroke":"#3b3222","strokeWidth":1.1},"encoding":{"x":{"field":"start"},"x2":{"field":"end"},"color":{"field":"recovery","type":"nominal","scale":{"domain":["100-10%","10-1%","1-0.1%","<0.1%"],"range":["#ed1c24","#fb9a0e","#ffe11a","#fff29a"]},"legend":null}}},
{"data":{"name":"aBars"},"mark":{"type":"bar","orient":"horizontal","size":7.3,"stroke":"#3b3222","strokeWidth":1.2},"encoding":{"x":{"field":"start"},"x2":{"field":"end"},"color":{"field":"recovery","type":"nominal","scale":{"domain":["100-10%","10-1%","1-0.1%","<0.1%"],"range":["#ed1c24","#fb9a0e","#ffe11a","#fff29a"]},"legend":null}}},
{"data":{"name":"aSeq"},"mark":{"type":"text","fontSize":13.4,"fontWeight":"bold","font":"Liberation Mono","color":"#111"},"encoding":{"text":{"field":"aa"}}},
{"data":{"values":[{"pos":0,"row":-1.07,"t":"0"},{"pos":43.56,"row":-1.07,"t":"44"}]},"mark":{"type":"text","fontSize":9},"encoding":{"text":{"field":"t"}}},
{"data":{"name":"aAc"},"mark":{"type":"point","shape":"square","filled":true,"fill":"white","stroke":"#333","strokeWidth":1.2,"size":115,"opacity":1}},
{"data":{"name":"aAc"},"mark":{"type":"text","fontSize":7.5,"color":"#333","text":"ac"}},
{"data":{"name":"aMe"},"mark":{"type":"point","shape":"M-1,0L-0.55,-0.9L0.55,-0.9L1,0L0.55,0.9L-0.55,0.9Z","filled":true,"fill":"white","stroke":"#333","strokeWidth":1,"size":130,"opacity":1}},
{"data":{"name":"aMe"},"mark":{"type":"text","fontSize":7,"color":"#333"},"encoding":{"text":{"field":"t"}}},
{"data":{"values":[{"pos":22.5,"row":-5.36}]},"mark":{"type":"point","shape":"square","filled":true,"fill":"white","stroke":"#333","strokeWidth":1.2,"size":190,"opacity":1}},
{"data":{"values":[{"pos":22.5,"row":-5.36,"t":"ac"}]},"mark":{"type":"text","fontSize":10,"color":"#333"},"encoding":{"text":{"field":"t"}}},
{"data":{"name":"aMeLegend"},"mark":{"type":"point","shape":"M-1,0L-0.55,-0.9L0.55,-0.9L1,0L0.55,0.9L-0.55,0.9Z","filled":false,"stroke":"#333","strokeWidth":1.2,"size":361,"opacity":1}},
{"data":{"name":"aMeLegend"},"mark":{"type":"text","fontSize":10,"color":"#333"},"encoding":{"text":{"field":"t"}}},
{"data":{"values":[{"pos":24.13,"row":-5.54,"t":"acetylation"},{"pos":27.03,"row":-3.24,"t":"mono-, di-, trimethylation"}]},"mark":{"type":"text","fontSize":9.5,"align":"left"},"encoding":{"text":{"field":"t"}}}
]},
{"encoding":{"x":{"field":"mz","type":"quantitative","scale":{"domain":[343.32,356.96],"range":[422,603],"nice":false,"zero":false},"axis":{"orient":"bottom","offset":-502.3,"values":[343.5,344,344.5,345,345.5,346,346.5,347,347.5,348,348.5,349,349.5,350,350.5,351,351.5,352,352.5,353,353.5,354,354.5,355,355.5,356,356.5],"labelExpr":"datum.value % 2 == 0 ? format(datum.value,'d') : ''","labelOverlap":false,"title":null,"labelFontSize":9,"labelColor":"#333","tickSize":2.5,"tickWidth":0.7,"tickColor":"#222","domainColor":"#222","labelPadding":3}},"y":{"field":"i","type":"quantitative","scale":{"domain":[0,100],"range":[300.7,86.7],"nice":false,"zero":false},"axis":{"orient":"left","offset":-422,"values":[0,2,4,6,8,10,12,14,16,18,20,22,24,26,28,30,32,34,36,38,40,42,44,46,48,50,52,54,56,58,60,62,64,66,68,70,72,74,76,78,80,82,84,86,88,90,92,94,96,98,100],"labelExpr":"datum.value % 10 == 0 ? format(datum.value,'d') : ''","labelOverlap":false,"title":null,"labelFontSize":8,"labelColor":"#333","tickSize":3,"tickWidth":0.7,"tickColor":"#222","domainColor":"#222","labelPadding":2}}},
"layer":[
{"data":{"name":"bPeaks"},"mark":{"type":"rule","color":"#5a5a5a","strokeWidth":1.3},"encoding":{"y2":{"datum":0}}},
{"data":{"name":"bDark"},"mark":{"type":"rule","color":"#111","strokeWidth":1.3},"encoding":{"y2":{"datum":0}}},
{"data":{"name":"bRed"},"mark":{"type":"rule","color":"#d9424e","strokeWidth":1.2},"encoding":{"y2":{"datum":0}}},
{"data":{"name":"bDash"},"mark":{"type":"rule","color":"#333","strokeWidth":1,"strokeDash":[3,3]},"encoding":{"x2":{"field":"mz2"},"y2":{"field":"i2"}}},
{"data":{"values":[{"mz":349.0,"i":140.3,"mz2":353.1,"i2":107.3}]},"mark":{"type":"rect","fill":"white","stroke":"#333","strokeWidth":1},"encoding":{"x2":{"field":"mz2"},"y2":{"field":"i2"}}},
{"data":{"values":[{"mz":340.76,"i":134.6,"t":"B"}]},"mark":{"type":"text","fontSize":20},"encoding":{"text":{"field":"t"}}},
{"data":{"values":[{"mz":350.88,"i":136.8,"t":"*"}]},"mark":{"type":"text","fontSize":9},"encoding":{"text":{"field":"t"}}},
{"data":{"name":"bText"},"mark":{"type":"text","fontSize":11},"encoding":{"text":{"field":"t"}}},
{"data":{"name":"bAc"},"mark":{"type":"point","shape":"square","filled":true,"fill":"#2ac2ea","stroke":"#1d4a5c","strokeWidth":1,"size":300,"opacity":1}},
{"data":{"name":"bAc"},"mark":{"type":"text","fontSize":10,"color":"#18415e"},"encoding":{"text":{"field":"t"}}},
{"data":{"name":"bMe"},"transform":[{"filter":"datum.tier == 1"}],"mark":{"type":"point","shape":"M-1,0L-0.55,-0.9L0.55,-0.9L1,0L0.55,0.9L-0.55,0.9Z","filled":true,"fill":"#fbd835","stroke":"#444","strokeWidth":1,"size":300,"opacity":1}},
{"data":{"name":"bMe"},"transform":[{"filter":"datum.tier == 1"}],"mark":{"type":"text","fontSize":10,"color":"#333","text":"me"}},
{"data":{"name":"bMe"},"transform":[{"filter":"datum.tier == 2"}],"mark":{"type":"point","shape":"M-1,0L-0.55,-0.9L0.55,-0.9L1,0L0.55,0.9L-0.55,0.9Z","filled":true,"fill":"#fbd835","stroke":"#444","strokeWidth":1,"size":300,"opacity":1}},
{"data":{"name":"bMe"},"transform":[{"filter":"datum.tier == 2"}],"mark":{"type":"text","fontSize":10,"color":"#333","text":"me"}},
{"data":{"name":"bMe"},"transform":[{"filter":"datum.tier == 3"}],"mark":{"type":"point","shape":"M-1,0L-0.55,-0.9L0.55,-0.9L1,0L0.55,0.9L-0.55,0.9Z","filled":true,"fill":"#fbd835","stroke":"#444","strokeWidth":1,"size":300,"opacity":1}},
{"data":{"name":"bMe"},"transform":[{"filter":"datum.tier == 3"}],"mark":{"type":"text","fontSize":10,"color":"#333","text":"me"}},
{"data":{"values":[{"mz":358.39,"mz2":362.54,"i":-2.15}]},"mark":{"type":"rule","color":"#333","strokeWidth":1},"encoding":{"x2":{"field":"mz2"}}},
{"data":{"values":[{"mz":362.4,"i":-2.15}]},"mark":{"type":"point","shape":"triangle-right","filled":true,"color":"#333","size":18,"opacity":1}}
]},
{"encoding":{"x":{"field":"mz","type":"quantitative","scale":{"domain":[84.8,565],"range":[156,556.7],"nice":false,"zero":false},"axis":{"orient":"bottom","offset":-392,"values":[100,150,200,250,300,350,400,450,500,550],"format":"d","title":"m/z","titleFontSize":6,"titlePadding":1,"titleColor":"#333","labelFontSize":6,"labelColor":"#333","tickSize":2.5,"tickWidth":0.6,"tickColor":"#222","domainColor":"#222","labelPadding":2}},"y":{"field":"i","type":"quantitative","scale":{"domain":[0,60],"range":[411,373.3],"nice":false,"zero":false},"axis":{"orient":"left","offset":-156,"values":[0,20,40,60],"format":"d","title":null,"labelFontSize":6,"labelColor":"#333","tickSize":3,"tickWidth":0.6,"tickColor":"#222","domainColor":"#222","labelPadding":1}}},
"layer":[
{"data":{"name":"c1"},"mark":{"type":"rule","color":"#222","strokeWidth":1},"encoding":{"y2":{"datum":0}}},
{"data":{"name":"c1k"},"mark":{"type":"rule","color":"#222","strokeWidth":0.8},"encoding":{"x2":{"field":"mz2"},"y2":{"field":"i2"}}},
{"data":{"name":"c1l"},"mark":{"type":"text","fontSize":7,"font":"DejaVu Sans"},"encoding":{"y":{"field":"ionI"},"text":{"field":"ion"},"color":{"field":"kind","type":"nominal","scale":{"domain":["c","z"],"range":["#2e9ac4","#d6334a"]},"legend":null}}},
{"data":{"name":"c1l"},"mark":{"type":"text","fontSize":5.8,"color":"#222"},"encoding":{"y":{"field":"valI"},"text":{"field":"val"}}},
{"data":{"values":[{"mz":344.1,"i":115.2,"t":"co-isolated"},{"mz":344.1,"i":105.6,"t":"contam"}]},"mark":{"type":"text","fontSize":7.4},"encoding":{"text":{"field":"t"}}},
{"data":{"values":[{"mz":49.7,"i":119.4,"t":"C"}]},"mark":{"type":"text","fontSize":20},"encoding":{"text":{"field":"t"}}}
]},
{"encoding":{"x":{"field":"mz","type":"quantitative","scale":{"domain":[563.3,1042],"range":[157.7,553.3],"nice":false,"zero":false},"axis":{"orient":"bottom","offset":-317.7,"values":[600,650,700,750,800,850,900,950,1000],"format":"d","title":"m/z","titleFontSize":6,"titlePadding":1,"titleColor":"#333","labelFontSize":6,"labelColor":"#333","tickSize":2.5,"tickWidth":0.6,"tickColor":"#222","domainColor":"#222","labelPadding":2}},"y":{"field":"i","type":"quantitative","scale":{"domain":[0,100],"range":[485.3,447.3],"nice":false,"zero":false},"axis":{"orient":"left","offset":-157.7,"values":[0,50,100],"format":"d","title":null,"labelFontSize":6,"labelColor":"#333","tickSize":3,"tickWidth":0.6,"tickColor":"#222","domainColor":"#222","labelPadding":1}}},
"layer":[
{"data":{"name":"c2"},"mark":{"type":"rule","color":"#222","strokeWidth":1},"encoding":{"y2":{"datum":0}}},
{"data":{"name":"c2k"},"mark":{"type":"rule","color":"#222","strokeWidth":0.8},"encoding":{"x2":{"field":"mz2"},"y2":{"field":"i2"}}},
{"data":{"name":"c2l"},"mark":{"type":"text","fontSize":7,"font":"DejaVu Sans"},"encoding":{"y":{"field":"ionI"},"text":{"field":"ion"},"color":{"field":"kind","type":"nominal","scale":{"domain":["c","z"],"range":["#2e9ac4","#d6334a"]},"legend":null}}},
{"data":{"name":"c2l"},"mark":{"type":"text","fontSize":5.8,"color":"#222"},"encoding":{"y":{"field":"valI"},"text":{"field":"val"}}}
]},
{"encoding":{"x":{"field":"mz","type":"quantitative","scale":{"domain":[1040.8,1522],"range":[155,556],"nice":false,"zero":false},"axis":{"orient":"bottom","offset":-250,"values":[1050,1100,1150,1200,1250,1300,1350,1400,1450,1500],"format":"d","title":"m/z","titleFontSize":6,"titlePadding":1,"titleColor":"#333","labelFontSize":6,"labelColor":"#333","tickSize":2.5,"tickWidth":0.6,"tickColor":"#222","domainColor":"#222","labelPadding":2}},"y":{"field":"i","type":"quantitative","scale":{"domain":[0,15],"range":[553,517.3],"nice":false,"zero":false},"axis":{"orient":"left","offset":-155,"values":[0,5,10,15],"format":"d","title":null,"labelFontSize":6,"labelColor":"#333","tickSize":3,"tickWidth":0.6,"tickColor":"#222","domainColor":"#222","labelPadding":1}}},
"layer":[
{"data":{"name":"c3"},"mark":{"type":"rule","color":"#222","strokeWidth":1},"encoding":{"y2":{"datum":0}}},
{"data":{"name":"c3k"},"mark":{"type":"rule","color":"#222","strokeWidth":0.8},"encoding":{"x2":{"field":"mz2"},"y2":{"field":"i2"}}},
{"data":{"name":"c3l"},"mark":{"type":"text","fontSize":7,"font":"DejaVu Sans"},"encoding":{"y":{"field":"ionI"},"text":{"field":"ion"},"color":{"field":"kind","type":"nominal","scale":{"domain":["c","z"],"range":["#2e9ac4","#d6334a"]},"legend":null}}},
{"data":{"name":"c3l"},"mark":{"type":"text","fontSize":5.8,"color":"#222"},"encoding":{"y":{"field":"valI"},"text":{"field":"val"}}},
{"data":{"values":[{"mz":1019.6,"i":21.07,"t":"Relative Abundance"}]},"mark":{"type":"text","fontSize":6.3,"angle":270,"color":"#333"},"encoding":{"text":{"field":"t"}}}
]},
{"encoding":{"x":{"field":"mz","type":"quantitative","scale":{"domain":[1520.7,2000],"range":[152.3,555.7],"nice":false,"zero":false},"axis":{"orient":"bottom","offset":-182.7,"values":[1550,1600,1650,1700,1750,1800,1850,1900,1950,2000],"format":"d","title":"m/z","titleFontSize":6,"titlePadding":1,"titleColor":"#333","labelFontSize":6,"labelColor":"#333","tickSize":2.5,"tickWidth":0.6,"tickColor":"#222","domainColor":"#222","labelPadding":2}},"y":{"field":"i","type":"quantitative","scale":{"domain":[0,6],"range":[620.3,587.7],"nice":false,"zero":false},"axis":{"orient":"left","offset":-152.3,"values":[0,2,4,6],"format":"d","title":null,"labelFontSize":6,"labelColor":"#333","tickSize":3,"tickWidth":0.6,"tickColor":"#222","domainColor":"#222","labelPadding":1}}},
"layer":[
{"data":{"name":"c4"},"mark":{"type":"rule","color":"#222","strokeWidth":1},"encoding":{"y2":{"datum":0}}},
{"data":{"name":"c4l"},"mark":{"type":"text","fontSize":7,"font":"DejaVu Sans"},"encoding":{"y":{"field":"ionI"},"text":{"field":"ion"},"color":{"field":"kind","type":"nominal","scale":{"domain":["c","z"],"range":["#2e9ac4","#d6334a"]},"legend":null}}},
{"data":{"name":"c4l"},"mark":{"type":"text","fontSize":5.8,"color":"#222"},"encoding":{"y":{"field":"valI"},"text":{"field":"val"}}}
]},
{"encoding":{"x":{"field":"site","type":"quantitative","scale":{"domain":[1,19],"range":[201,472.8],"nice":false,"zero":false},"axis":null},"y":{"field":"lvl","type":"quantitative","scale":{"domain":[-6,4],"range":[799.3,669.3],"nice":false,"zero":false},"axis":null}},
"layer":[
{"data":{"name":"dBlue"},"mark":{"type":"rule","color":"#4f9fce","strokeWidth":1.3},"encoding":{"y2":{"datum":-0.8}}},
{"data":{"name":"dBlueT"},"mark":{"type":"rule","color":"#3a7ea8","strokeWidth":0.9},"encoding":{"x2":{"field":"end"}}},
{"data":{"name":"dRed"},"mark":{"type":"rule","color":"#e2705f","strokeWidth":1.2},"encoding":{"y2":{"datum":-1.23}}},
{"data":{"name":"dRedT"},"mark":{"type":"rule","color":"#d8604f","strokeWidth":0.9},"encoding":{"x2":{"field":"end"}}},
{"data":{"name":"dTop"},"mark":{"type":"text","fontSize":7.5,"font":"Liberation Mono","color":"#666"},"encoding":{"text":{"field":"n"}}},
{"data":{"name":"dBot"},"mark":{"type":"text","fontSize":7.5,"font":"Liberation Mono","color":"#666"},"encoding":{"text":{"field":"n"}}},
{"data":{"name":"dSeq"},"mark":{"type":"text","fontSize":15.5,"fontWeight":"bold","font":"Liberation Mono","color":"#111"},"encoding":{"text":{"field":"t"}}},
{"data":{"values":[{"site":-3.92,"lvl":4.72,"t":"D"}]},"mark":{"type":"text","fontSize":20},"encoding":{"text":{"field":"t"}}},
{"data":{"values":[{"site":-2.93,"lvl":3.18,"t":"C⁺³"},{"site":-2.93,"lvl":2.12,"t":"C⁺²"},{"site":-2.93,"lvl":1.08,"t":"C⁺¹"}]},"mark":{"type":"text","fontSize":12,"align":"left","color":"#2e8fc0"},"encoding":{"text":{"field":"t"}}},
{"data":{"values":[{"site":27.69,"lvl":-2.9,"t":"z⁺¹"},{"site":27.69,"lvl":-4,"t":"z⁺²"},{"site":27.69,"lvl":-5.03,"t":"z⁺³"}]},"mark":{"type":"text","fontSize":12,"align":"left","color":"#cc3344"},"encoding":{"text":{"field":"t"}}}
]}
]
}
